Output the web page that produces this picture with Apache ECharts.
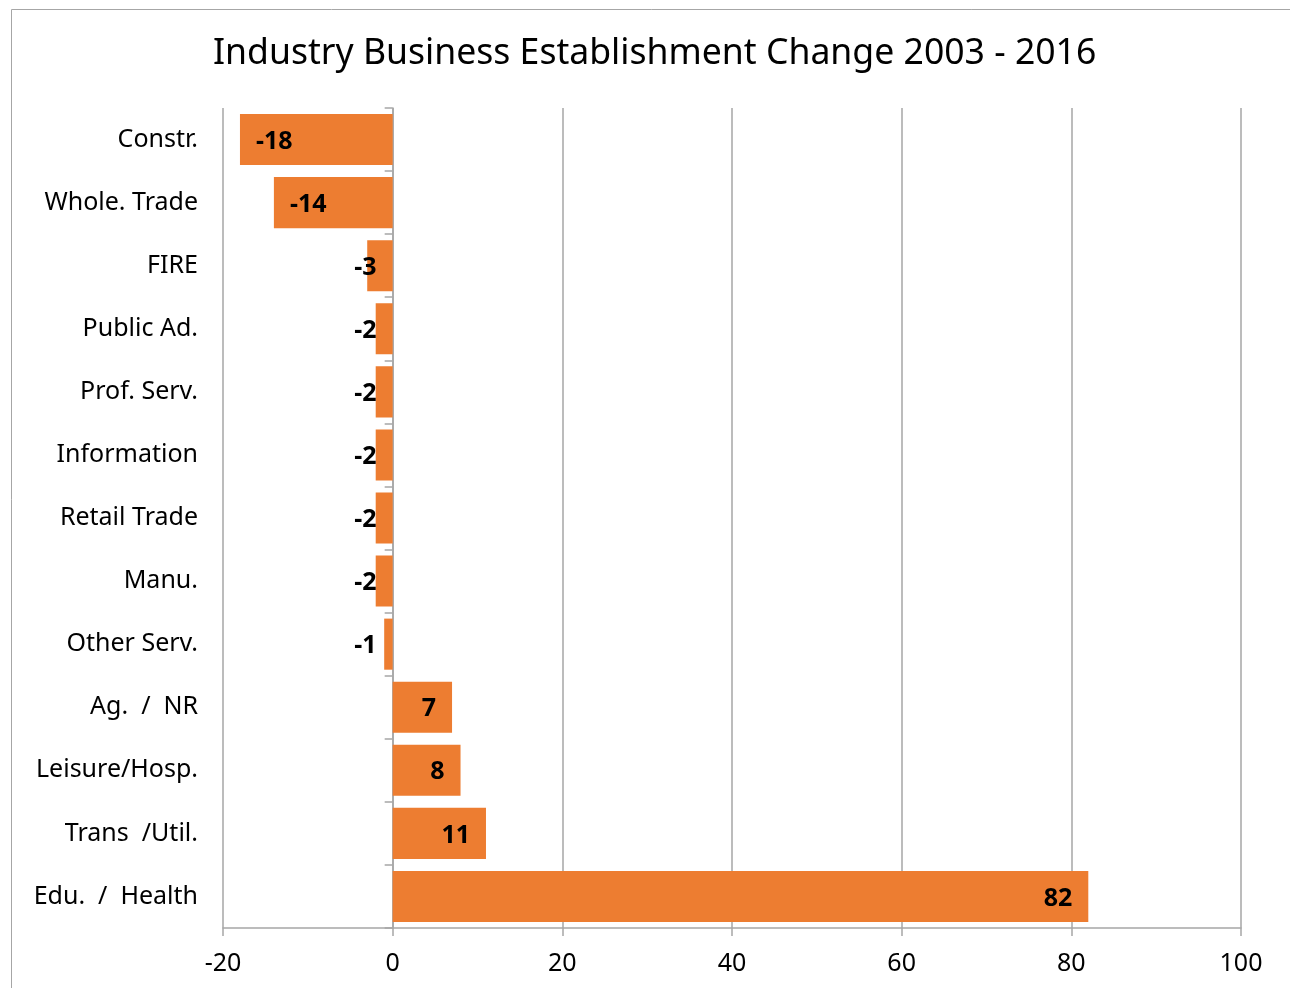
<!DOCTYPE html>
<html><head><meta charset="utf-8">
<script src="https://cdn.jsdelivr.net/npm/echarts@6/dist/echarts.min.js"></script>
<style>html,body{margin:0;padding:0;background:#fff}#c{width:1290px;height:988px}</style>
</head><body><div id="c"></div>
<script>
const categories = ['Constr.', 'Whole. Trade', 'FIRE', 'Public Ad.', 'Prof. Serv.', 'Information', 'Retail Trade', 'Manu.', 'Other Serv.', 'Ag.  /  NR', 'Leisure/Hosp.', 'Trans  /Util.', 'Edu.  /  Health'];
const values = [-18, -14, -3, -2, -2, -2, -2, -2, -1, 7, 8, 11, 82];
const xTicks = { min: -20, max: 100, interval: 20 };
const FONT = '"Noto Sans", sans-serif';

const chart = echarts.init(document.getElementById('c'), null, { renderer: 'canvas' });
const data = values.map(v => ({
  value: v,
  label: { position: v < 0 ? (v <= -8 ? 'insideLeft' : 'insideRight') : 'insideRight' }
}));
chart.setOption({
  animation: false,
  title: {
    text: 'Industry Business Establishment Change 2003 - 2016',
    left: 208, top: 31,
    textStyle: { fontFamily: FONT, fontSize: 35.6, fontWeight: 'normal', color: '#000' }
  },
  graphic: [{
    type: 'rect', shape: { x: 11.5, y: 9.5, width: 1300, height: 1000 },
    style: { fill: null, stroke: '#a6a6a6', lineWidth: 1 }, silent: true
  }],
  grid: { left: 223, right: 49, top: 108, bottom: 60, containLabel: false, outerBoundsMode: 'none' },
  xAxis: {
    type: 'value', min: xTicks.min, max: xTicks.max, interval: xTicks.interval,
    axisLine: { show: true, onZero: false, lineStyle: { color: '#a6a6a6', width: 1.5 } },
    axisTick: { show: true, length: 8, lineStyle: { color: '#a6a6a6', width: 1.5 } },
    splitLine: { show: true, lineStyle: { color: '#a6a6a6', width: 1.5 } },
    axisLabel: { fontFamily: FONT, fontSize: 25, color: '#000', margin: 23 }
  },
  yAxis: {
    type: 'category', data: categories, inverse: true,
    axisLine: { show: true, onZero: true, lineStyle: { color: '#a6a6a6', width: 1.5 } },
    axisTick: { show: true, length: 8, lineStyle: { color: '#a6a6a6', width: 1.5 } },
    axisLabel: { fontFamily: FONT, fontSize: 25, color: '#000', margin: 25, align: 'right' },
    splitLine: { show: false }
  },
  series: [{
    type: 'bar', data: data, barCategoryGap: '19%',
    itemStyle: { color: '#ED7D31' },
    label: {
      show: true, distance: 16, fontFamily: FONT, fontSize: 25, fontWeight: 'bold', color: '#000',
      offset: [0, 2]
    }
  }]
});
</script>
</body></html>
